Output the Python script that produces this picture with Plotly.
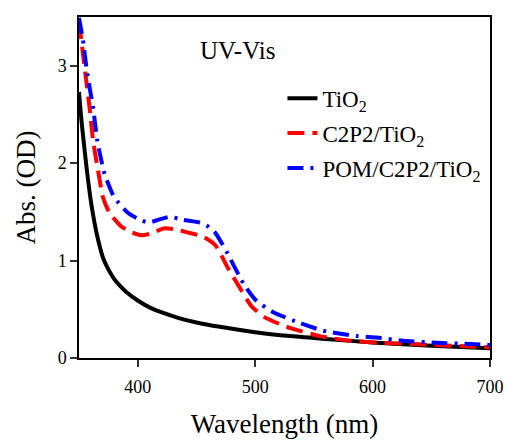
import plotly.graph_objects as go

# Wavelength (nm) / absorbance (OD)
tio2_x = [350, 352, 354, 356, 358, 360, 362, 365, 368, 371, 375, 380, 385, 390, 400, 410, 420, 435, 450, 470, 500, 530, 560, 600, 650, 700]
tio2_y = [2.73, 2.45, 2.22, 2.0, 1.8, 1.62, 1.47, 1.28, 1.13, 1.01, 0.91, 0.81, 0.74, 0.68, 0.59, 0.52, 0.47, 0.41, 0.365, 0.32, 0.265, 0.225, 0.195, 0.16, 0.125, 0.10]

c2p2_x = [350, 352, 355.4, 359, 362, 366.7, 370.4, 376, 386, 395, 403, 412, 422, 433, 445, 455, 466, 477, 484, 497, 508, 527, 555, 581, 604, 640, 674, 700]
c2p2_y = [3.45, 3.26, 2.92, 2.57, 2.23, 1.89, 1.65, 1.49, 1.35, 1.29, 1.26, 1.28, 1.33, 1.32, 1.28, 1.25, 1.16, 0.92, 0.78, 0.53, 0.42, 0.32, 0.225, 0.177, 0.157, 0.14, 0.123, 0.11]

pom_x = [350, 353.4, 357, 362, 365.6, 371.8, 380, 391.7, 400, 409, 418, 427.5, 437.5, 453, 458.7, 465.8, 475.7, 490, 500, 515.5, 538, 558, 586.5, 603.5, 626, 654.6, 683, 700]
pom_y = [3.49, 3.26, 2.92, 2.57, 2.23, 1.89, 1.65, 1.49, 1.43, 1.39, 1.42, 1.45, 1.42, 1.39, 1.36, 1.29, 1.09, 0.765, 0.60, 0.47, 0.36, 0.28, 0.225, 0.21, 0.177, 0.157, 0.143, 0.133]

x_ticks = [400, 500, 600, 700]
y_ticks = [0, 1, 2, 3]

FONT = "Liberation Serif, Times New Roman, serif"

fig = go.Figure()
fig.add_trace(go.Scatter(x=tio2_x, y=tio2_y, mode="lines", name="TiO<sub>2</sub>",
                         line=dict(color="black", width=4, shape="spline", smoothing=0.8),
                         legendgroup="a"))
fig.add_trace(go.Scatter(x=c2p2_x, y=c2p2_y, mode="lines", name="C2P2/TiO<sub>2</sub>",
                         line=dict(color="#ff0000", width=4, dash="17px,8px", shape="spline", smoothing=0.6),
                         legendgroup="b"))
fig.add_trace(go.Scatter(x=pom_x, y=pom_y, mode="lines", name="POM/C2P2/TiO<sub>2</sub>",
                         line=dict(color="#0000ff", width=4, dash="16px,7px,3px,7px", shape="spline", smoothing=0.6),
                         legendgroup="c"))

fig.update_layout(
    width=506, height=442,
    margin=dict(l=79, r=16, t=17, b=84),
    paper_bgcolor="white", plot_bgcolor="white",
    font=dict(family=FONT, color="black", size=18),
    showlegend=True,
    legend=dict(x=0.495, y=0.825, xanchor="left", yanchor="top",
                font=dict(family=FONT, size=23, color="black"),
                bgcolor="rgba(0,0,0,0)", tracegroupgap=2),
    annotations=[dict(text="UV-Vis", x=0.385, y=0.903, xref="paper", yref="paper",
                      xanchor="center", yanchor="middle", showarrow=False,
                      font=dict(family=FONT, size=25, color="black"))],
)
fig.update_xaxes(range=[350, 700], tickvals=x_ticks, ticks="outside", ticklen=7, tickwidth=1.5,
                 tickcolor="#333", showgrid=False, zeroline=False, showline=True, linecolor="black",
                 linewidth=1.5, mirror=True, tickfont=dict(size=18), ticklabelstandoff=5,
                 automargin=False,
                 title=dict(text="Wavelength (nm)", font=dict(size=27), standoff=18))
fig.update_yaxes(range=[0, 3.5], tickvals=y_ticks, ticks="outside", ticklen=7, tickwidth=1.5,
                 tickcolor="#333", showgrid=False, zeroline=False, showline=True, linecolor="black",
                 linewidth=1.5, mirror=True, tickfont=dict(size=18), automargin=False,
                 title=dict(text="Abs. (OD)", font=dict(size=27), standoff=14))

fig.write_html("out.html")
